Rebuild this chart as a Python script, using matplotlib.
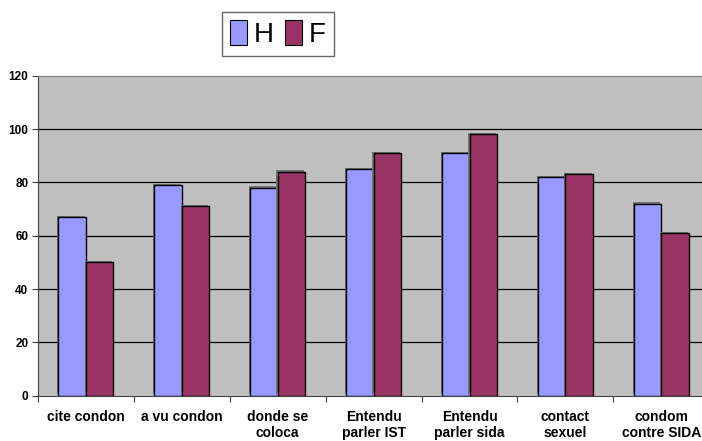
import matplotlib
matplotlib.use("Agg")
import matplotlib.pyplot as plt
import matplotlib.patheffects as pe
import numpy as np

categories = ["cite condon", "a vu condon", "donde se\ncoloca", "Entendu\nparler IST",
              "Entendu\nparler sida", "contact\nsexuel", "condom\ncontre SIDA"]
hommes = [67, 79, 78, 85, 91, 82, 72]
femmes = [50, 71, 84, 91, 98, 83, 61]
y_ticks = [0, 20, 40, 60, 80, 100, 120]

plt.rcParams["font.family"] = ["Liberation Sans", "DejaVu Sans"]

fig = plt.figure(figsize=(7.02, 4.41), dpi=100)
ax = fig.add_axes([0.0541, 0.1027, 0.9563, 0.7256])
ax.set_facecolor("#C0C0C0")

x = np.arange(len(categories))
width = 0.287
shadow = [pe.SimplePatchShadow(offset=(-0.9, 0.9), shadow_rgbFace="#707070", alpha=1.0), pe.Normal()]
ax.bar(x - width / 2, hommes, width, color="#9999FF", edgecolor="black", linewidth=1,
       label="H", zorder=3, path_effects=shadow)
ax.bar(x + width / 2, femmes, width, color="#993366", edgecolor="black", linewidth=1,
       label="F", zorder=3, path_effects=shadow)

ax.set_ylim(0, 120)
ax.set_xlim(-0.5, len(categories) - 0.5)
ax.set_yticks(y_ticks)
ax.set_yticklabels([str(t) for t in y_ticks], fontsize=8.5, fontweight="bold")
for t in y_ticks[1:-1]:
    ax.axhline(t, color="black", linewidth=0.9, zorder=1)

ax.set_xticks(np.arange(len(categories) + 1) - 0.5)
ax.set_xticklabels([])
ax.set_xticks(x, minor=True)
ax.set_xticklabels(categories, minor=True, fontsize=10, fontweight="bold", linespacing=1.2)
ax.tick_params(axis="x", which="minor", length=0, pad=10)
ax.tick_params(axis="x", which="major", length=4, color="#404040")
ax.tick_params(axis="y", length=4, pad=3, color="#404040")

ax.spines["top"].set_color("#808080")
ax.spines["right"].set_visible(False)
ax.spines["left"].set_color("#404040")
ax.spines["bottom"].set_color("#404040")

leg = fig.legend(loc="center", bbox_to_anchor=(278 / 702, 1 - 34 / 441), ncol=2,
                 fontsize=20, handlelength=0.6, handleheight=1.0, handletextpad=0.25,
                 columnspacing=0.4, borderpad=0.3, borderaxespad=0, fancybox=False, frameon=True)
leg.get_frame().set_edgecolor("#404040")
leg.get_frame().set_linewidth(1)
for handle in leg.legend_handles:
    handle.set_path_effects([])
    handle.set_linewidth(0.8)

fig.savefig("out.png", dpi=100)
